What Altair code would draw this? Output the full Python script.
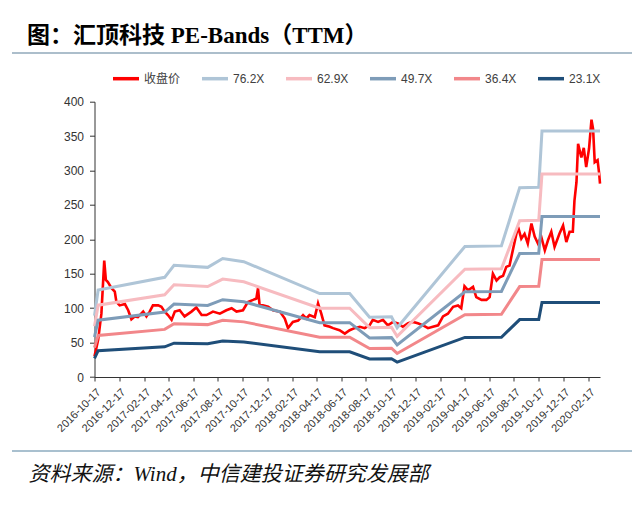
import altair as alt
import pandas as pd

# ---------------- data ----------------
price_dates = [
    "2016-10-17", "2016-10-26", "2016-11-03", "2016-11-07", "2016-11-10", "2016-11-14",
    "2016-11-19", "2016-11-28", "2016-12-06", "2016-12-10", "2016-12-18", "2016-12-31",
    "2017-01-08", "2017-01-16", "2017-01-24", "2017-02-01", "2017-02-14", "2017-02-22",
    "2017-03-02", "2017-03-10", "2017-03-23", "2017-03-31", "2017-04-08", "2017-04-16",
    "2017-04-25", "2017-05-03", "2017-05-15", "2017-05-27", "2017-06-13", "2017-06-25",
    "2017-07-08", "2017-07-20", "2017-08-05", "2017-08-22", "2017-09-07", "2017-09-20",
    "2017-10-02", "2017-10-18", "2017-10-30", "2017-11-12", "2017-11-20", "2017-11-24",
    "2017-11-28", "2017-12-06", "2017-12-19", "2017-12-31", "2018-01-17", "2018-01-29",
    "2018-02-06", "2018-02-18", "2018-03-03", "2018-03-15", "2018-03-23", "2018-03-31",
    "2018-04-13", "2018-04-21", "2018-04-29", "2018-05-07", "2018-05-20", "2018-05-28",
    "2018-06-13", "2018-06-26", "2018-07-08", "2018-07-20", "2018-08-02", "2018-08-14",
    "2018-08-26", "2018-09-03", "2018-09-16", "2018-09-28", "2018-10-10", "2018-10-23",
    "2018-11-04", "2018-11-16", "2018-11-29", "2018-12-11", "2018-12-23", "2019-01-05",
    "2019-01-17", "2019-01-29", "2019-02-11", "2019-02-23", "2019-03-07", "2019-03-20",
    "2019-04-01", "2019-04-09", "2019-04-17", "2019-04-26", "2019-05-08", "2019-05-16",
    "2019-05-29", "2019-06-10", "2019-06-18", "2019-06-26", "2019-07-05", "2019-07-13",
    "2019-07-21", "2019-07-29", "2019-08-06", "2019-08-14", "2019-08-23", "2019-08-27",
    "2019-09-04", "2019-09-12", "2019-09-20", "2019-09-29", "2019-10-07", "2019-10-15",
    "2019-10-23", "2019-11-01", "2019-11-09", "2019-11-17", "2019-11-25", "2019-12-07",
    "2019-12-16", "2019-12-24", "2020-01-01", "2020-01-09", "2020-01-13", "2020-01-18",
    "2020-01-22", "2020-01-30", "2020-02-05", "2020-02-11", "2020-02-18", "2020-02-24",
    "2020-02-28", "2020-03-03", "2020-03-10", "2020-03-14", "2020-03-16",
]
price_values = [
    30, 54, 92, 136, 169, 141,
    138, 129, 124, 109, 104, 106,
    97, 84, 88, 87, 95, 88,
    95, 104, 104, 102, 95, 90,
    83, 95, 97, 88, 95, 101,
    90, 90, 95, 92, 97, 100,
    95, 97, 109, 112, 114, 129,
    104, 104, 102, 97, 95, 85,
    71, 80, 82, 90, 85, 90,
    87, 107, 92, 75, 73, 71,
    68, 63, 68, 71, 73, 71,
    75, 83, 80, 83, 75, 80,
    78, 73, 78, 80, 78, 75,
    71, 73, 75, 88, 92, 102,
    104, 100, 132, 126, 131, 116,
    112, 112, 116, 150, 140, 145,
    147, 160, 162, 184, 208, 218,
    201, 208, 194, 223, 204, 194,
    204, 184, 199, 211, 189, 208,
    220, 196, 211, 211, 256, 283,
    339, 319, 333, 305, 332, 374,
    360, 312, 315, 295, 281,
]

band_dates = [
    "2016-10-17", "2016-10-26", "2017-04-08", "2017-05-01", "2017-07-23", "2017-08-29",
    "2017-10-20", "2018-04-25", "2018-07-08", "2018-08-26", "2018-10-19", "2018-11-02",
    "2019-04-18", "2019-07-17", "2019-08-31", "2019-10-17", "2019-10-25", "2020-03-16",
]
band_762 = [89.2, 126.5, 144.8, 162.3, 159.3, 172.2, 167.6, 121.2, 121.2, 86.9, 87.6, 71.6,
            189.7, 190.5, 275.1, 275.8, 357.4, 357.4]
band_629 = [73.6, 104.4, 119.5, 134.0, 131.5, 142.2, 138.4, 100.0, 100.0, 71.7, 72.3, 59.1,
            156.6, 157.3, 227.1, 227.7, 295.0, 295.0]
band_497 = [58.1, 82.5, 94.4, 105.9, 103.9, 112.3, 109.3, 79.0, 79.0, 56.7, 57.2, 46.7,
            123.8, 124.3, 179.4, 179.9, 233.1, 233.1]
band_364 = [42.6, 60.4, 69.2, 77.5, 76.1, 82.3, 80.1, 57.9, 57.9, 41.5, 41.9, 34.2,
            90.6, 91.0, 131.4, 131.8, 170.7, 170.7]
band_231 = [27.0, 38.3, 43.9, 49.2, 48.3, 52.2, 50.8, 36.7, 36.7, 26.3, 26.6, 21.7,
            57.5, 57.8, 83.4, 83.6, 108.3, 108.3]

series_names = ["收盘价", "76.2X", "62.9X", "49.7X", "36.4X", "23.1X"]
series_colors = ["#FF0000", "#AFC5D7", "#F7BBC0", "#7E9CB8", "#F2878A", "#1F4E79"]
band_values = [band_762, band_629, band_497, band_364, band_231]

x_tick_labels = [
    "2016-10-17", "2016-12-17", "2017-02-17", "2017-04-17", "2017-06-17", "2017-08-17",
    "2017-10-17", "2017-12-17", "2018-02-17", "2018-04-17", "2018-06-17", "2018-08-17",
    "2018-10-17", "2018-12-17", "2019-02-17", "2019-04-17", "2019-06-17", "2019-08-17",
    "2019-10-17", "2019-12-17", "2020-02-17",
]
y_ticks = [0, 50, 100, 150, 200, 250, 300, 350, 400]

title_text = "图：汇顶科技 PE-Bands（TTM）"
source_text = "资料来源：Wind，中信建投证券研究发展部"

# ---------------- tables ----------------
price_df = pd.DataFrame({"date": price_dates, "value": price_values, "series": series_names[0]})
band_df = pd.concat(
    [pd.DataFrame({"date": band_dates, "value": vals, "series": name})
     for name, vals in zip(series_names[1:], band_values)],
    ignore_index=True,
)


def dt(s):
    y, m, d = (int(p) for p in s.split("-"))
    return alt.DateTime(year=y, month=m, date=d, utc=True)


x_enc = alt.X(
    "date:T",
    scale=alt.Scale(type="utc", domain=[dt("2016-10-17"), dt("2020-03-16")]),
    axis=alt.Axis(
        values=[dt(s) for s in x_tick_labels],
        format="%Y-%m-%d",
        labelAngle=-45,
        labelAlign="right",
        labelBaseline="top",
        labelFont="Liberation Sans",
        labelFontSize=11,
        labelColor="#333333",
        labelPadding=5,
        labelOverlap=False,
        tickSize=4,
        tickColor="#333333",
        domainColor="#333333",
        grid=False,
        title=source_text,
        titleFont="Liberation Serif, Noto Sans CJK SC",
        titleFontSize=21,
        titleFontStyle="italic",
        titleFontWeight="normal",
        titleColor="#111111",
        titleAlign="left",
        titleBaseline="middle",
        titleAngle=0,
        titleX=-66.5,
        titleY=97,
    ),
)
y_enc = alt.Y(
    "value:Q",
    scale=alt.Scale(domain=[0, 400], nice=False),
    axis=alt.Axis(
        values=y_ticks,
        labelFont="Liberation Sans",
        labelFontSize=12,
        labelColor="#333333",
        labelPadding=6,
        tickSize=5,
        tickColor="#333333",
        domainColor="#333333",
        grid=False,
        title=None,
    ),
)
color_enc = alt.Color(
    "series:N",
    scale=alt.Scale(domain=series_names, range=series_colors),
    legend=alt.Legend(
        orient="none",
        legendX=16.5,
        legendY=-38,
        direction="horizontal",
        title=None,
        symbolType="stroke",
        symbolSize=676,
        symbolStrokeWidth=3.5,
        labelFont="Liberation Sans, Noto Sans CJK SC",
        labelFontSize=12,
        labelColor="#404040",
        labelOffset=3,
        columnPadding=14,
        padding=0,
    ),
)

price_line = alt.Chart(price_df).mark_line(strokeWidth=2.6).encode(
    x=x_enc, y=y_enc, color=color_enc
)
band_lines = alt.Chart(band_df).mark_line(strokeWidth=3).encode(
    x=x_enc, y=y_enc, color=color_enc, detail="series:N"
)

one = pd.DataFrame({"k": [0]})
top_rule = alt.Chart(one).mark_rule(color="#90A8BA", strokeWidth=1.5).encode(
    x=alt.value(-82.5), x2=alt.value(545.5), y=alt.value(-48.7)
)
bottom_rule = alt.Chart(one).mark_rule(color="#A9C0CF", strokeWidth=2).encode(
    x=alt.value(-82.5), x2=alt.value(545.5), y=alt.value(349.3)
)

chart = (
    alt.layer(top_rule, bottom_rule, price_line, band_lines)
    .properties(
        width=505.5,
        height=275.3,
        autosize=alt.AutoSizeParams(type="none"),
        padding={"left": 86.5, "top": 93.7, "right": 32, "bottom": 110},
        title=alt.TitleParams(
            text=title_text,
            font="Liberation Serif, Noto Sans CJK SC",
            fontSize=23,
            fontWeight="bold",
            color="#000000",
            anchor="start",
            frame="group",
            dx=-67.5,
            offset=4,
        ),
        background="white",
    )
    .configure_view(stroke=None)
)

chart.save("out.html", embed_options={"renderer": "svg", "actions": False})
